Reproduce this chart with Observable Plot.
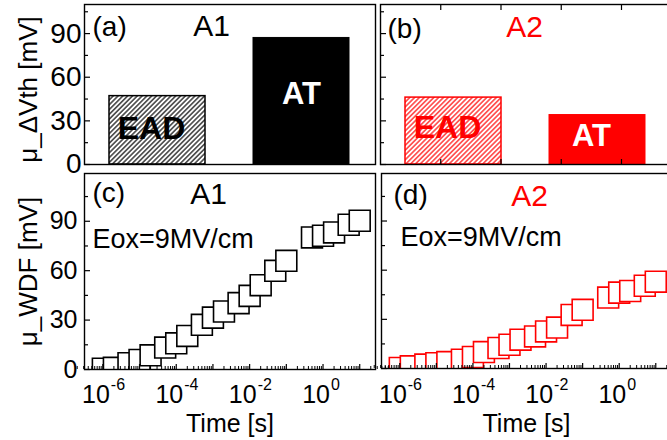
<!DOCTYPE html>
<html><head><meta charset="utf-8">
<script src="https://cdn.jsdelivr.net/npm/d3@7"></script>
<script src="https://cdn.jsdelivr.net/npm/@observablehq/plot@0.6"></script>
<style>
html,body{margin:0;padding:0;background:#fff;}
#chart{position:relative;width:667px;height:440px;overflow:hidden;background:#fff;}
</style></head><body>
<svg width="0" height="0" style="position:absolute">
<defs>
<pattern id="hatchK" patternUnits="userSpaceOnUse" width="3.4" height="3.4" patternTransform="rotate(45)"><line x1="1.7" y1="0" x2="1.7" y2="3.4" stroke="#000" stroke-width="1.15"/></pattern>
<pattern id="hatchR" patternUnits="userSpaceOnUse" width="3.4" height="3.4" patternTransform="rotate(45)"><line x1="1.7" y1="0" x2="1.7" y2="3.4" stroke="#ff0000" stroke-width="1.15"/></pattern>
</defs></svg>
<div id="chart"></div>
<script>
// ---- data ----
const categories = ["EAD", "AT"];
const dVthA1 = [47, 87];
const dVthA2 = [46, 34];
const timeS = [1e-6, 2e-6, 5e-6, 1e-5, 2e-5, 5e-5, 1e-4, 2e-4, 5e-4, 1e-3, 2e-3, 5e-3, 1e-2, 2e-2, 5e-2, 1e-1, 0.5, 1, 2, 5, 10];
const wdfA1 = [0.5, 1.0, 3.8, 5.8, 8.6, 13.3, 15.9, 20.4, 27.1, 31.5, 35.2, 40.3, 44.7, 51.2, 59.9, 66.0, 80.2, 81.2, 83.2, 87.9, 90.3];
const wdfA2 = [0.3, 1.3, 2.4, 3.2, 3.9, 5.4, 7.0, 10.0, 12.5, 14.5, 17.6, 19.6, 22.6, 25.0, 32.7, 35.8, 43.3, 46.3, 47.3, 50.5, 53.0];
const yMajorTicks = [0, 30, 60, 90];
const yMinorTicks = [15, 45, 75, 105];
const xLabelExponents = [-6, -4, -2, 0];
const decadeExponents = [-6, -5, -4, -3, -2, -1, 0, 1];
const barFrameTicks = [1, 2, 3, 4];

const FONT = '"Liberation Sans", Arial, Helvetica, sans-serif';
const RED = "#ff0000";
const xMajor = decadeExponents.map(e => 10 ** e);
const xMinor = [-7, ...decadeExponents].flatMap(e => [2, 3, 4, 5, 6, 7, 8, 9].map(m => m * 10 ** e));

const chart = document.getElementById("chart");
const SVGW = 671, SVGH = 440;

function base(f) {
  return {
    width: SVGW, height: SVGH,
    marginLeft: f.left, marginRight: SVGW - f.right, marginTop: f.top, marginBottom: SVGH - f.bottom,
    style: {background: "transparent", maxWidth: "none", overflow: "visible", fontFamily: FONT, fontSize: "25px", color: "black"}
  };
}
function place(svg) {
  svg.style.position = "absolute"; svg.style.left = "0px"; svg.style.top = "0px";
  chart.appendChild(svg);
}
function tagMarks(o) {
  return [
    Plot.text([o.tag], {text: d => d, frameAnchor: "top-left", textAnchor: "start", lineAnchor: "bottom", dx: o.tagDx, dy: o.tagDy, fontSize: 28, fill: "black"}),
    Plot.text([o.title], {text: d => d, frameAnchor: "top", textAnchor: "middle", lineAnchor: "bottom", dx: o.titleDx, dy: o.titleDy, fontSize: 30, fill: o.color})
  ];
}

function barPanel(o) {
  const rows = categories.map((c, i) => ({cat: c, v: o.values[i]}));
  const isEAD = d => d.cat === "EAD", isAT = d => d.cat === "AT";
  return Plot.plot({
    ...base(o.frame),
    x: {type: "band", domain: categories, paddingInner: 0.33, paddingOuter: 0.17, axis: null},
    y: {domain: [0, 110], axis: null, label: null},
    marks: [
      Plot.barY(rows, {filter: isEAD, x: "cat", y: "v", fill: `url(#${o.hatch})`, stroke: o.color, strokeWidth: 1.5}),
      Plot.barY(rows, {filter: isAT, x: "cat", y: "v", fill: o.color, stroke: o.color, strokeWidth: 1}),
      Plot.text(rows, {filter: isEAD, x: "cat", text: "cat", frameAnchor: "bottom", lineAnchor: "bottom", dx: -6, dy: o.eadDy, fontSize: 32, fontWeight: "bold", fill: o.color}),
      Plot.text(rows, {filter: isAT, x: "cat", text: "cat", frameAnchor: "bottom", lineAnchor: "bottom", dx: o.atDx, dy: o.atDy, fontSize: 31, fontWeight: "bold", fill: "white"}),
      Plot.axisY(yMajorTicks, {tickSize: -6, fill: "none", label: null, strokeWidth: 1.2}),
      Plot.axisY(yMinorTicks, {tickSize: -4, fill: "none", label: null, strokeWidth: 1.2}),
      o.showY ? Plot.axisY(yMajorTicks, {tickSize: 0, tickPadding: 3, label: null, fontSize: 28, stroke: "none"}) : null,
      o.showY ? Plot.text(["\u03bc_\u0394Vth [mV]"], {text: d => d, frameAnchor: "left", textAnchor: "middle", rotate: -90, dx: -56, dy: 5, fontSize: 26}) : null,
      ...tagMarks(o),
      Plot.frame({stroke: "black", strokeWidth: 1.4})
    ]
  });
}

// frame ticks on the top/bottom edges of panel (b)
function barFrameTickPanel(f) {
  return Plot.plot({
    ...base(f),
    x: {domain: [0, 4.83], axis: null},
    y: {domain: [0, 110], axis: null},
    marks: [
      Plot.axisX(barFrameTicks, {anchor: "top", tickSize: -5, fill: "none", label: null, strokeWidth: 1.2}),
      Plot.axisX(barFrameTicks, {anchor: "bottom", tickSize: -5, fill: "none", label: null, strokeWidth: 1.2})
    ]
  });
}

function wdfPanel(o) {
  const rows = timeS.map((t, i) => ({t, v: o.values[i]}));
  return Plot.plot({
    ...base(o.frame),
    x: {type: "log", domain: [10 ** -6.5, 10 ** 1.43], axis: null},
    y: {domain: [0, 119], axis: null, label: null},
    marks: [
      Plot.dot(rows, {x: "t", y: "v", symbol: "square", r: 11.8, fill: "white", stroke: o.color, strokeWidth: 1.6, clip: true}),
      Plot.axisX(xMajor, {anchor: "bottom", tickSize: -5, fill: "none", label: null, strokeWidth: 1.2}),
      Plot.axisX(xMinor, {anchor: "bottom", tickSize: -3, fill: "none", label: null, strokeWidth: 1}),
      Plot.axisY(yMajorTicks, {tickSize: -6, fill: "none", label: null, strokeWidth: 1.2}),
      Plot.axisY(yMinorTicks, {tickSize: -4, fill: "none", label: null, strokeWidth: 1.2}),
      o.showY ? Plot.axisY(yMajorTicks, {tickSize: 0, tickPadding: 7, label: null, fontSize: 25, stroke: "none"}) : null,
      o.showY ? Plot.text(["\u03bc_WDF [mV]"], {text: d => d, frameAnchor: "left", textAnchor: "middle", rotate: -90, dx: -56, dy: 0, fontSize: 26}) : null,
      Plot.text(xLabelExponents, {x: e => 10 ** e, text: () => "10", frameAnchor: "bottom", textAnchor: "end", lineAnchor: "bottom", dx: 7, dy: o.baseDy, fontSize: 25}),
      Plot.text(xLabelExponents, {x: e => 10 ** e, text: e => String(e), frameAnchor: "bottom", textAnchor: "start", lineAnchor: "bottom", dx: 8, dy: o.baseDy - 13, fontSize: 16}),
      Plot.text(["Time [s]"], {text: d => d, frameAnchor: "bottom", textAnchor: "middle", lineAnchor: "bottom", dy: o.baseDy + 29, fontSize: 25}),
      Plot.text(["Eox=9MV/cm"], {text: d => d, frameAnchor: "top-left", textAnchor: "start", lineAnchor: "bottom", dx: o.eoxDx, dy: o.eoxDy, fontSize: 27}),
      ...tagMarks(o),
      Plot.frame({stroke: "black", strokeWidth: 1.4})
    ]
  });
}

place(barPanel({frame: {left: 84, top: 4, right: 375, bottom: 164}, values: dVthA1, color: "black", hatch: "hatchK", showY: true,
  tag: "(a)", title: "A1", tagDx: 8, tagDy: 31, titleDx: -18.5, titleDy: 31, eadDy: -26, atDx: 0, atDy: -61}));
place(barPanel({frame: {left: 380, top: 4, right: 671, bottom: 164}, values: dVthA2, color: RED, hatch: "hatchR", showY: false,
  tag: "(b)", title: "A2", tagDx: 7, tagDy: 33, titleDx: -1.5, titleDy: 32, eadDy: -27, atDx: -6, atDy: -19}));
place(barFrameTickPanel({left: 380, top: 4, right: 671, bottom: 164}));
place(wdfPanel({frame: {left: 84, top: 173, right: 375, bottom: 369}, values: wdfA1, color: "black", showY: true,
  tag: "(c)", title: "A1", tagDx: 8, tagDy: 28, titleDx: -21.5, titleDy: 30, eoxDx: 8, eoxDy: 74, baseDy: 33}));
place(wdfPanel({frame: {left: 381, top: 173, right: 671, bottom: 368}, values: wdfA2, color: RED, showY: false,
  tag: "(d)", title: "A2", tagDx: 12, tagDy: 30, titleDx: 3, titleDy: 32, eoxDx: 19, eoxDy: 72, baseDy: 34}));
</script>
</body></html>
